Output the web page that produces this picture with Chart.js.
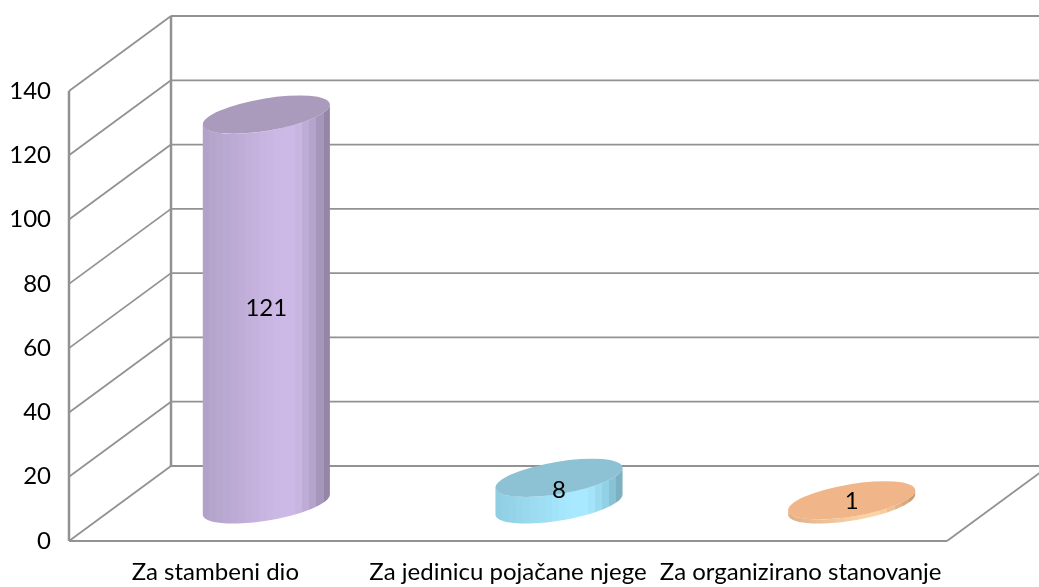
<!DOCTYPE html>
<html>
<head>
<meta charset="utf-8">
<script src="https://cdn.jsdelivr.net/npm/chart.js@4"></script>
<style>
  html, body { margin: 0; padding: 0; background: #fff; overflow: hidden; }
  canvas { display: block; }
</style>
</head>
<body>
<canvas id="myChart" width="1039" height="587"></canvas>
<script>
const categories = ['Za stambeni dio', 'Za jedinicu pojačane njege', 'Za organizirano stanovanje']
const values = [121, 8, 1]
const yMin = 0
const yMax = 140
const yStep = 20

// colours per cylinder: left edge, light part, right edge, top
const sideLeft = ['#b1a1c8', '#8fcde2', '#e0b088']
const sideLight = ['#cdb9e6', '#a8e9ff', '#fbd3a6']
const sideRight = ['#8d7e9f', '#77a8b7', '#c8966c']
const topColor = ['#aa9bbd', '#8cc2d4', '#f0b68a']

const depthX = 102
const depthY = -75
const gridColor = '#929292'
const fontName = 'Lato, "Open Sans", sans-serif'

const hexToRgb = (hex) => [1, 3, 5].map(p => parseInt(hex.slice(p, p + 2), 16))

// colour at position t (0..1) across the cylinder side
const sideColor = (i, t) => {
    const stops = [[0, sideLeft[i]], [0.6, sideLight[i]], [0.72, sideLight[i]], [0.88, sideLeft[i]], [1, sideRight[i]]]
    let k = 0
    while (k < stops.length - 2 && t > stops[k + 1][0]) k++
    const a = hexToRgb(stops[k][1])
    const b = hexToRgb(stops[k + 1][1])
    const f = Math.min(1, (t - stops[k][0]) / (stops[k + 1][0] - stops[k][0]))
    return `rgb(${a.map((c, n) => Math.round(c + (b[n] - c) * f)).join(',')})`
}

// back wall, side wall and floor of the fake 3d box
const boxPlugin = {
    id: 'box3d',
    beforeDatasetsDraw(chart) {
        const { ctx, chartArea } = chart
        const y = chart.scales.y
        const left = chartArea.left
        const right = chartArea.right
        const backLeft = left + depthX
        const line = (x1, y1, x2, y2, w) => {
            ctx.lineWidth = w
            ctx.beginPath()
            ctx.moveTo(x1, y1)
            ctx.lineTo(x2, y2)
            ctx.stroke()
        }
        ctx.save()
        ctx.strokeStyle = gridColor
        for (let v = yMin; v <= yMax; v += yStep) {
            const py = y.getPixelForValue(v)
            line(left, py, backLeft, py + depthY, 1.8)
            line(backLeft, py + depthY, right + depthX, py + depthY, 1.8)
        }
        line(left, y.getPixelForValue(yMin), left, y.getPixelForValue(yMax), 2.5)
        line(backLeft, y.getPixelForValue(yMin) + depthY, backLeft, y.getPixelForValue(yMax) + depthY, 2.5)
        line(left, y.getPixelForValue(yMin), right, y.getPixelForValue(yMin), 1.8)
        line(right, y.getPixelForValue(yMin), right + depthX, y.getPixelForValue(yMin) + depthY, 1.8)
        ctx.restore()
    }
}

// cylinders sit half way into the box, sizes come from the bar elements
const cylinderPlugin = {
    id: 'cylinders',
    afterDatasetsDraw(chart) {
        const { ctx } = chart
        const bars = chart.getDatasetMeta(0).data
        const rot = -9.5 * Math.PI / 180
        const bands = 18
        bars.forEach((bar, i) => {
            const cx = bar.x + depthX / 2
            const topY = bar.y + depthY / 2
            const baseY = bar.base + depthY / 2 + 1
            const rx = bar.width / 2
            const ry = rx * 0.25
            const t0 = Math.atan(-(ry / rx) * Math.tan(rot))

            // stepped side, the original shading has visible vertical bands
            const grad = ctx.createLinearGradient(cx - rx, 0, cx + rx, 0)
            for (let b = 0; b < bands; b++) {
                const col = sideColor(i, (b + 0.5) / bands)
                grad.addColorStop(b / bands, col)
                grad.addColorStop((b + 1) / bands, col)
            }

            ctx.save()
            ctx.fillStyle = grad
            ctx.beginPath()
            ctx.ellipse(cx, baseY, rx, ry, rot, t0, t0 + Math.PI)
            ctx.ellipse(cx, topY, rx, ry, rot, t0 + Math.PI, t0, true)
            ctx.closePath()
            ctx.fill()

            ctx.fillStyle = topColor[i]
            ctx.beginPath()
            ctx.ellipse(cx, topY, rx, ry, rot, 0, Math.PI * 2)
            ctx.fill()

            ctx.fillStyle = '#000'
            ctx.font = '24px ' + fontName
            ctx.textAlign = 'center'
            ctx.textBaseline = 'middle'
            ctx.fillText(values[i], cx, (topY + baseY) / 2 - 1)
            ctx.restore()
        })
    }
}

const myChart = new Chart(document.getElementById('myChart'), {
    type: 'bar',
    data: {
        labels: categories,
        datasets: [{
            data: values,
            backgroundColor: 'transparent',
            borderWidth: 0,
            categoryPercentage: 1,
            barPercentage: 0.44
        }]
    },
    options: {
        responsive: false,
        animation: false,
        events: [],
        layout: { padding: { top: 91, right: 92, left: 0, bottom: 0 } },
        plugins: { legend: { display: false }, tooltip: { enabled: false } },
        scales: {
            x: {
                grid: { display: false, drawTicks: false },
                border: { display: false },
                ticks: { color: '#000', font: { family: fontName, size: 24 }, padding: 17, maxRotation: 0, autoSkip: false },
                afterFit(scale) { scale.height = 46 }
            },
            y: {
                min: yMin,
                max: yMax,
                grid: { display: false, drawTicks: false },
                border: { display: false },
                ticks: { stepSize: yStep, color: '#000', font: { family: fontName, size: 24 }, padding: 18 },
                afterFit(scale) { scale.width = 69 }
            }
        }
    },
    plugins: [boxPlugin, cylinderPlugin]
})
</script>
</body>
</html>
